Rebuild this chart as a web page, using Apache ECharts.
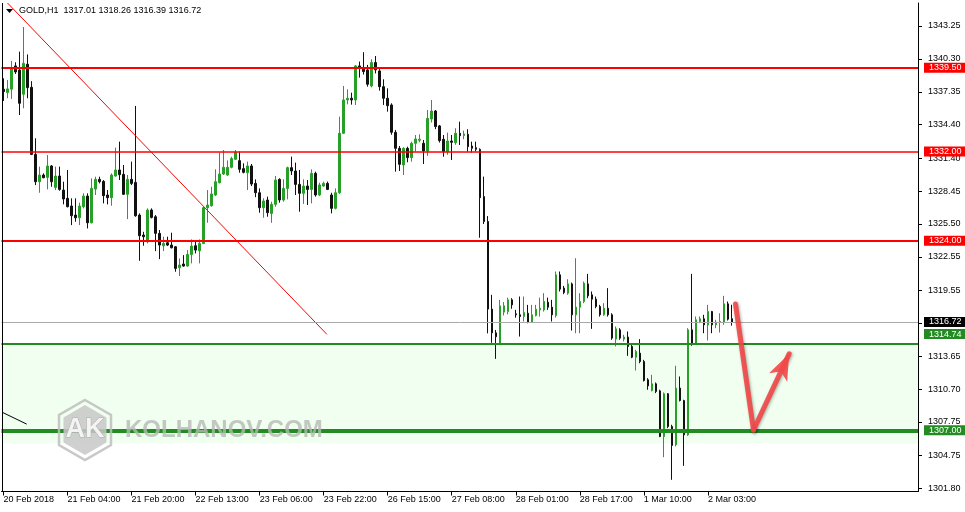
<!DOCTYPE html>
<html><head><meta charset="utf-8">
<script src="https://cdn.jsdelivr.net/npm/echarts@6/dist/echarts.min.js"></script>
<style>html,body{margin:0;padding:0;background:#fff}#c{width:965px;height:512px}</style>
</head><body><div id="c"></div>
<script>
// ---------- DATA ----------
const symbolTitle = 'GOLD,H1';
const headerOHLC = ['1317.01', '1318.26', '1316.39', '1316.72'];

const open = [
1337.58,1337.28,1337.58,1339.67,1339.30,1337.13,1339.82,1337.75,1331.74,1329.29,
1329.89,1329.68,1330.70,1328.78,1329.80,1328.54,1327.80,1327.11,1326.30,1326.06,
1327.05,1328.00,1325.61,1328.63,1329.50,1329.32,1328.10,1327.86,1329.80,1330.34,
1329.95,1328.16,1329.50,1329.23,1326.30,1324.51,1323.91,1326.75,1326.15,1324.66,
1323.55,1323.82,1323.61,1323.46,1321.58,1321.91,1321.73,1322.77,1323.55,1323.10,
1323.76,1326.96,1327.14,1328.10,1329.20,1329.98,1329.89,1330.58,1331.30,1331.18,
1330.46,1330.10,1330.70,1329.14,1328.30,1326.96,1327.65,1326.45,1327.26,1329.50,
1327.65,1328.69,1330.55,1330.25,1329.05,1328.25,1328.90,1328.60,1330.04,1328.10,
1328.90,1329.14,1328.10,1326.90,1328.30,1333.63,1336.62,1336.77,1336.62,1339.67,
1339.46,1339.31,1337.87,1339.97,1339.22,1337.81,1336.77,1336.17,1333.72,1332.28,
1330.79,1332.28,1331.45,1332.73,1333.00,1332.73,1332.04,1334.91,1335.63,1334.29,
1333.09,1331.98,1332.94,1332.79,1333.63,1333.42,1333.54,1332.49,1332.34,1332.19,
1327.96,1325.72,1317.87,1315.74,1314.76,1317.60,1317.65,1318.70,1317.45,1317.36,
1317.21,1317.50,1316.70,1317.30,1317.80,1317.80,1318.49,1318.04,1317.30,1320.94,
1319.75,1319.30,1320.13,1317.36,1318.04,1318.55,1320.13,1319.15,1318.76,1318.10,
1317.36,1317.95,1317.36,1315.18,1316.01,1315.18,1315.36,1314.52,1313.56,1313.92,
1313.17,1311.53,1310.58,1311.17,1310.54,1306.45,1310.28,1307.35,1305.71,1310.79,
1309.68,1306.60,1316.01,1314.82,1316.76,1317.00,1316.46,1317.65,1316.46,1316.70,
1316.67,1318.34,1317.01];

const close = [
1337.37,1337.61,1339.46,1339.13,1336.32,1339.90,1337.72,1331.74,1329.29,1329.89,
1329.65,1330.70,1329.29,1329.80,1328.60,1327.74,1327.05,1326.24,1326.06,1327.11,
1328.00,1325.61,1328.69,1329.50,1329.29,1328.04,1327.86,1329.89,1330.34,1329.92,
1328.16,1329.50,1329.14,1326.24,1324.45,1324.36,1326.75,1326.09,1324.66,1323.61,
1323.76,1323.61,1323.37,1321.52,1321.82,1321.73,1322.77,1323.52,1323.16,1323.76,
1326.96,1327.20,1328.19,1329.29,1329.98,1330.58,1330.58,1331.36,1331.92,1330.40,
1330.13,1330.70,1329.08,1328.30,1326.96,1327.56,1326.51,1327.26,1329.44,1327.65,
1328.69,1330.55,1330.25,1329.05,1328.25,1328.90,1328.60,1330.04,1328.10,1329.00,
1329.14,1328.60,1326.90,1328.30,1333.63,1336.62,1336.77,1336.62,1339.67,1339.46,
1339.16,1338.02,1339.97,1339.31,1337.81,1336.77,1336.11,1333.72,1332.28,1330.85,
1332.28,1331.45,1332.73,1333.12,1333.10,1332.04,1334.97,1335.63,1334.23,1332.97,
1331.98,1332.94,1332.82,1333.63,1333.42,1333.57,1332.43,1332.28,1332.19,1327.86,
1325.72,1317.87,1315.74,1315.39,1318.16,1318.16,1318.70,1318.25,1317.36,1317.21,
1317.57,1316.67,1317.36,1317.86,1317.95,1318.55,1318.04,1317.36,1320.94,1319.66,
1319.36,1320.13,1317.36,1318.04,1318.55,1320.19,1319.06,1318.76,1318.10,1317.36,
1317.95,1317.36,1315.27,1316.10,1315.27,1315.36,1314.52,1313.56,1314.07,1313.17,
1311.47,1310.99,1311.17,1310.49,1306.45,1310.28,1307.35,1305.65,1310.79,1309.68,
1306.60,1316.01,1314.82,1316.91,1317.00,1316.46,1317.65,1316.46,1316.70,1316.76,
1318.34,1316.97,1316.72];

const low = [
1336.53,1336.77,1336.71,1338.95,1335.27,1335.87,1336.77,1331.68,1328.99,1328.30,
1329.60,1328.60,1328.84,1328.54,1328.48,1327.26,1326.99,1325.40,1325.70,1325.40,
1326.90,1325.10,1325.55,1328.10,1329.14,1327.35,1327.26,1327.14,1329.74,1329.44,
1328.10,1325.94,1328.99,1326.15,1322.20,1323.55,1323.76,1326.00,1323.07,1322.35,
1323.07,1323.52,1323.31,1321.22,1320.83,1321.67,1321.67,1321.97,1322.86,1321.97,
1323.70,1325.61,1327.05,1328.00,1329.14,1329.89,1329.80,1330.49,1331.24,1330.10,
1330.04,1328.54,1328.90,1327.90,1326.51,1326.06,1326.15,1325.61,1327.05,1327.41,
1327.50,1327.71,1329.89,1328.10,1326.60,1327.30,1327.20,1327.35,1327.95,1328.00,
1328.84,1328.54,1326.45,1326.81,1328.19,1333.57,1336.23,1336.20,1336.17,1338.62,
1338.90,1337.81,1337.75,1339.00,1337.45,1336.17,1335.57,1333.50,1330.19,1330.25,
1329.89,1331.03,1331.09,1331.98,1332.82,1330.88,1331.60,1334.60,1334.00,1332.80,
1331.53,1331.70,1331.24,1332.60,1332.58,1333.10,1331.98,1331.90,1332.00,1324.27,
1325.50,1315.70,1314.85,1313.41,1314.67,1317.30,1317.40,1317.90,1317.10,1315.41,
1316.76,1316.60,1316.65,1317.21,1317.20,1317.65,1317.80,1316.76,1317.12,1319.45,
1319.21,1319.15,1315.95,1315.71,1315.71,1318.40,1318.85,1316.10,1317.95,1317.20,
1317.27,1317.20,1315.12,1314.52,1315.12,1314.97,1313.68,1313.47,1312.37,1313.02,
1311.38,1310.64,1310.49,1310.34,1306.39,1304.60,1307.20,1302.57,1305.56,1309.59,
1303.82,1306.51,1314.58,1314.73,1316.61,1315.71,1315.06,1315.71,1316.16,1315.77,
1316.46,1316.85,1316.39];

const high = [
1338.56,1338.41,1340.12,1340.00,1340.95,1343.16,1340.70,1338.30,1333.18,1330.64,
1330.04,1331.68,1330.79,1330.64,1330.64,1329.29,1330.34,1327.80,1327.80,1327.41,
1328.25,1328.25,1329.59,1329.74,1329.74,1329.44,1328.54,1330.04,1332.34,1332.88,
1330.79,1329.89,1331.09,1336.08,1326.45,1324.80,1326.90,1326.90,1326.30,1324.96,
1324.36,1324.36,1324.72,1323.52,1322.41,1322.71,1323.16,1324.12,1323.91,1324.12,
1327.05,1328.54,1328.84,1330.40,1331.89,1332.13,1331.20,1331.53,1332.13,1332.00,
1330.94,1331.09,1330.88,1329.50,1328.69,1327.80,1327.95,1327.50,1329.80,1329.59,
1329.50,1330.64,1331.54,1331.00,1330.34,1329.50,1329.44,1330.40,1330.19,1329.20,
1329.30,1329.30,1328.30,1328.69,1335.12,1337.87,1337.57,1337.27,1339.76,1340.06,
1340.90,1339.76,1340.27,1340.56,1339.46,1338.47,1337.66,1336.32,1333.93,1332.49,
1332.37,1332.43,1332.88,1333.48,1333.54,1333.03,1335.72,1336.62,1335.72,1334.38,
1333.48,1333.69,1333.48,1334.08,1334.67,1333.87,1333.99,1332.88,1332.88,1332.28,
1329.75,1326.21,1319.15,1316.00,1318.70,1318.50,1318.90,1318.85,1317.80,1319.00,
1319.00,1318.25,1318.25,1318.25,1318.90,1319.30,1318.90,1318.70,1321.24,1321.24,
1319.95,1320.55,1320.25,1322.43,1319.30,1320.34,1321.03,1319.45,1319.00,1318.25,
1318.40,1319.75,1317.50,1316.31,1316.16,1315.56,1315.86,1314.67,1314.22,1315.18,
1313.32,1311.68,1311.98,1311.29,1310.64,1310.40,1310.34,1307.50,1312.79,1311.83,
1309.74,1316.16,1321.03,1317.21,1317.21,1317.36,1318.25,1317.71,1316.91,1317.50,
1319.06,1318.55,1318.26];

const xTickLabels = ['20 Feb 2018','21 Feb 04:00','21 Feb 20:00','22 Feb 13:00','23 Feb 06:00','23 Feb 22:00',
  '26 Feb 15:00','27 Feb 08:00','28 Feb 01:00','28 Feb 17:00','1 Mar 10:00','2 Mar 03:00'];
const yTickValues = [1301.80,1304.75,1307.75,1310.70,1313.65,1316.60,1319.55,1322.55,1325.50,1328.45,1331.40,1334.40,1337.35,1340.30,1343.25];

const resistanceLevels = [1339.50, 1332.00, 1324.00];
const supportLevels = [1314.74, 1307.00];
const currentPrice = 1316.72;
const supportZone = [1314.74, 1305.87];
// trend lines as [barIndex, price]
const redTrendline = [[1.0, 1345.31], [80.8, 1315.61]];
const blackTrendline = [[-0.25, 1308.61], [5.8, 1307.56]];
const arrowPath = [[182.9, 1318.32], [187.4, 1307.03], [196.3, 1313.86]];

// ---------- CATEGORIES (hourly bars, gold session without 00:00 and weekends) ----------
const MONTHS = ['Jan','Feb','Mar','Apr','May','Jun','Jul','Aug','Sep','Oct','Nov','Dec'];
const hours = [];
(function () {
  let t = Date.UTC(2018, 1, 20, 11);
  while (hours.length < open.length) {
    const d = new Date(t), h = d.getUTCHours(), wd = d.getUTCDay();
    if (h !== 0 && wd !== 0 && wd !== 6) hours.push(d.getUTCDate() + ' ' + MONTHS[d.getUTCMonth()] + ' ' + String(h).padStart(2,'0') + ':00');
    t += 3600000;
  }
})();
const N_SLOTS = 229;
const categories = hours.concat(new Array(N_SLOTS - hours.length).fill(''));
const candles = open.map((o, i) => [o, close[i], low[i], high[i]]);

// ---------- STYLE ----------
const FONT = '"Liberation Sans", Arial, sans-serif';
const GREEN = '#26a026', BLACK = '#111111', RED = '#ff0000', LGREEN = '#228b22';
const tickEvery = (i) => i % 16 === 0 && i / 16 < xTickLabels.length;

function levelLabel(bg, offsetY) {
  return { show: true, position: 'end', distance: 6, padding: [1, 5, 0, 5], backgroundColor: bg, color: '#fff',
    fontFamily: FONT, fontSize: 9, lineHeight: 9, offset: [0, offsetY || 0], formatter: p => Number(p.value).toFixed(2) };
}
const markLines = [];
resistanceLevels.forEach((v, i) => markLines.push({ yAxis: v, lineStyle: { color: RED, width: i === 1 ? 1.6 : 2, type: 'solid', opacity: 1 }, label: levelLabel(RED) }));
markLines.push({ yAxis: currentPrice, lineStyle: { color: '#a9a9a9', width: 1, type: 'solid', opacity: 1 }, label: levelLabel('#000') });
supportLevels.forEach((v, i) => markLines.push({ yAxis: v, lineStyle: { color: LGREEN, width: i === 0 ? 2 : 4, type: 'solid', opacity: 1 }, label: levelLabel(LGREEN, i === 0 ? -10 : 0) }));

const arrowStyle = { color: 'rgba(242,72,72,0.9)', width: 5, type: 'solid', cap: 'round', shadowBlur: 3, shadowColor: 'rgba(0,0,0,0.35)', shadowOffsetX: 1, shadowOffsetY: 1 };

const chart = echarts.init(document.getElementById('c'), null, { renderer: 'canvas' });
chart.setOption({
  animation: false,
  backgroundColor: '#ffffff',
  title: { text: symbolTitle + '  ' + headerOHLC.join(' '), left: 19, top: 6, padding: 0,
    textStyle: { fontFamily: FONT, fontSize: 9, fontWeight: 'normal', color: '#000' } },
  grid: { left: 1.5, right: 47, top: 3, bottom: 20.5, containLabel: false },
  xAxis: [{
    type: 'category', data: categories, boundaryGap: true,
    axisLine: { onZero: false, lineStyle: { color: '#000', width: 1 } },
    axisTick: { show: true, alignWithLabel: true, interval: tickEvery, length: 4, lineStyle: { color: '#000' } },
    axisLabel: { interval: tickEvery, formatter: (v, i) => xTickLabels[i / 16], align: 'left', margin: 4,
      fontFamily: FONT, fontSize: 9, color: '#000' },
    splitLine: { show: false }
  }, {
    type: 'value', min: -0.5, max: N_SLOTS - 0.5, show: false,
    axisLine: { onZero: false }
  }],
  yAxis: {
    type: 'value', position: 'right', min: 1301.52, max: 1345.31,
    axisLine: { show: true, onZero: false, lineStyle: { color: '#000', width: 1 } },
    axisTick: { show: true, customValues: yTickValues, length: 4, lineStyle: { color: '#000' } },
    axisLabel: { customValues: yTickValues, formatter: v => Number(v).toFixed(2), margin: 10,
      fontFamily: FONT, fontSize: 9, color: '#000' },
    splitLine: { show: false }
  },
  series: [{
    type: 'candlestick', data: candles, barWidth: 2,
    itemStyle: { color: GREEN, color0: BLACK, borderColor: GREEN, borderColor0: BLACK, borderColorDoji: BLACK, borderWidth: 1 },
    markArea: { silent: true, itemStyle: { color: '#f0fff0' }, data: [[{ yAxis: supportZone[0] }, { yAxis: supportZone[1] }]] },
    markLine: { silent: true, symbol: ['none', 'none'], data: markLines }
  }, {
    type: 'line', xAxisIndex: 1, data: redTrendline, symbol: 'none', silent: true,
    lineStyle: { color: RED, width: 1 }
  }, {
    type: 'line', xAxisIndex: 1, data: blackTrendline, symbol: 'none', silent: true,
    lineStyle: { color: '#000', width: 1 },
    markLine: {
      silent: true, label: { show: false },
      data: [
        [{ coord: arrowPath[0], symbol: 'none', lineStyle: arrowStyle }, { coord: arrowPath[1], symbol: 'none' }],
        [{ coord: arrowPath[1], symbol: 'none', lineStyle: arrowStyle }, { coord: arrowPath[2], symbol: 'arrow', symbolSize: [15, 26] }]
      ]
    }
  }],
  graphic: [
    { type: 'line', shape: { x1: 2.5, y1: 3, x2: 2.5, y2: 491.5 }, style: { stroke: '#000', lineWidth: 1 }, z: 50 },
    { type: 'polygon', shape: { points: [[6, 9], [13, 9], [9.5, 13]] }, style: { fill: '#000' }, z: 50 },
    { type: 'group', z: 60, children: [
      { type: 'polygon', shape: { points: [[85,400],[111,415],[111,445],[85,460],[59,445],[59,415]] },
        style: { fill: 'none', stroke: 'rgba(190,190,190,0.85)', lineWidth: 2.5 }, z: 60 },
      { type: 'polygon', shape: { points: [[85,405],[106.5,417.5],[106.5,442.5],[85,455],[63.5,442.5],[63.5,417.5]] },
        style: { fill: 'rgba(200,200,200,0.85)' }, z: 60 },
      { type: 'text', style: { text: 'AK', x: 85, y: 430, align: 'center', verticalAlign: 'middle',
        font: 'bold 27px "Liberation Sans", Arial, sans-serif', fill: 'rgba(245,245,245,0.95)', stroke: 'rgba(170,170,170,0.9)', lineWidth: 1 }, z: 61 },
      { type: 'text', style: { text: 'KOLHANOV.COM', x: 125, y: 430, align: 'left', verticalAlign: 'middle',
        font: 'bold 24px "Liberation Sans", Arial, sans-serif', fill: 'rgba(180,186,180,0.8)' }, z: 61 }
    ]}
  ]
});
</script>
</body></html>
